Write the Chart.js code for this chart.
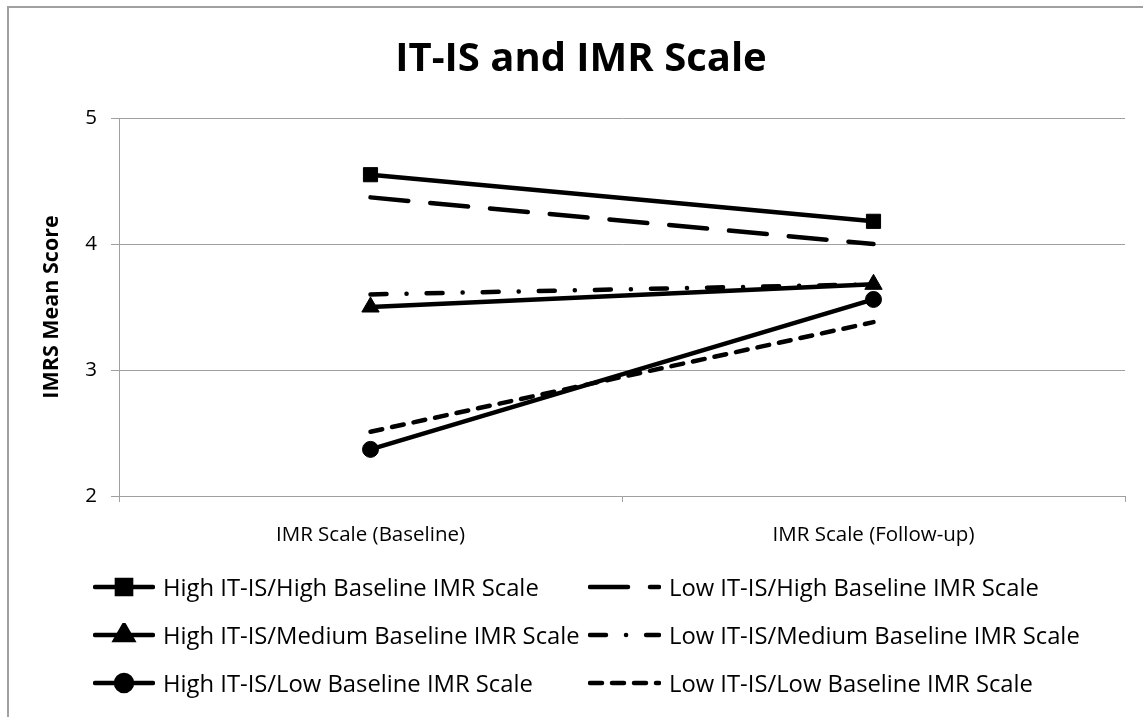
<!DOCTYPE html>
<html>
<head>
<meta charset="utf-8">
<script src="https://cdn.jsdelivr.net/npm/chart.js@4/dist/chart.umd.min.js"></script>
<style>
  body { margin:0; background:#fff; }
  #wrap { position:relative; width:1143px; height:717px; overflow:hidden; font-family:'Open Sans', sans-serif; }
  #frame { position:absolute; left:7px; top:6px; width:1200px; height:800px; border-left:2px solid #a0a0a0; border-top:2px solid #a0a0a0; }
  #chart { position:absolute; left:0; top:0; }
  #legend { position:absolute; left:93px; top:563px; display:grid; grid-template-columns:495px auto; grid-auto-rows:48px; align-items:center; }
  .item { display:flex; align-items:center; font-size:23.8px; color:#000; white-space:nowrap; }
  .item canvas { margin-right:8px; }
</style>
</head>
<body>
<div id="wrap">
  <div id="frame"></div>
  <canvas id="chart" width="1143" height="717"></canvas>
  <div id="legend"></div>
</div>
<script>
// ── DATA ─────────────────────────────────────────────────────────
const categories = ['IMR Scale (Baseline)', 'IMR Scale (Follow-up)'];
const seriesNames = [
  'High IT-IS/High Baseline IMR Scale',
  'Low IT-IS/High Baseline IMR Scale',
  'High IT-IS/Medium Baseline IMR Scale',
  'Low IT-IS/Medium Baseline IMR Scale',
  'High IT-IS/Low Baseline IMR Scale',
  'Low IT-IS/Low Baseline IMR Scale'
];
const highHigh = [4.55, 4.18];
const lowHigh  = [4.37, 4.00];
const highMed  = [3.50, 3.68];
const lowMed   = [3.60, 3.68];
const highLow  = [2.37, 3.56];
const lowLow   = [2.51, 3.38];
const yTicks   = [2, 3, 4, 5];

// ── STYLES ───────────────────────────────────────────────────────
const FONT = "'Open Sans', sans-serif";
const GRID = '#a0a0a0';
const styles = [
  { data: highHigh, dash: [],            point: 'rect',     radius: 10 },
  { data: lowHigh,  dash: [38, 22],      point: false,      radius: 0 },
  { data: highMed,  dash: [],            point: 'triangle', radius: 10 },
  { data: lowMed,   dash: [16, 20, 0.1, 20], point: false,  radius: 0 },
  { data: highLow,  dash: [],            point: 'circle',   radius: 8 },
  { data: lowLow,   dash: [12, 10],      point: false,      radius: 0 }
];

const datasets = styles.map((s, i) => ({
  label: seriesNames[i],
  data: s.data,
  borderColor: '#000',
  backgroundColor: '#000',
  borderWidth: 4.5,
  borderDash: s.dash,
  borderCapStyle: 'round',
  pointStyle: s.point || 'circle',
  pointRadius: s.radius,
  pointBorderWidth: 1,
  pointBackgroundColor: '#000',
  pointBorderColor: '#000',
  tension: 0
}));

new Chart(document.getElementById('chart'), {
  type: 'line',
  data: { labels: categories, datasets },
  options: {
    responsive: false,
    animation: false,
    layout: { padding: { left: 37, right: 18, top: 0, bottom: 161 } },
    plugins: {
      legend: { display: false },
      tooltip: { enabled: false },
      title: {
        display: true, text: 'IT-IS and IMR Scale', color: '#000',
        font: { family: FONT, size: 40, weight: 'bold' },
        padding: { top: 36, bottom: 34 }
      }
    },
    scales: {
      x: {
        offset: true,
        grid: { offset: true, drawOnChartArea: false, tickLength: 6, color: GRID },
        border: { color: GRID, width: 1 },
        ticks: { color: '#000', font: { family: FONT, size: 20.5 }, padding: 21 },
        afterFit: s => { s.height = 60; }
      },
      y: {
        min: 2, max: 5,
        afterBuildTicks: s => { s.ticks = yTicks.map(v => ({ value: v })); },
        grid: { color: GRID, tickLength: 8 },
        border: { color: GRID, width: 1 },
        ticks: { color: '#000', font: { family: FONT, size: 20.5 }, padding: 14 },
        title: { display: true, text: 'IMRS Mean Score', color: '#000', font: { family: FONT, size: 21.5, weight: 'bold' }, padding: { top: 2, bottom: 4 } },
        afterFit: s => { s.width = 82; }
      }
    }
  }
});

// ── LEGEND (two fixed columns, like the original) ────────────────
const legend = document.getElementById('legend');
styles.forEach((s, i) => {
  const w = i % 2 === 0 ? 62 : 73;
  const c = document.createElement('canvas');
  c.width = w; c.height = 24;
  const ctx = c.getContext('2d');
  ctx.strokeStyle = '#000'; ctx.fillStyle = '#000';
  ctx.lineWidth = 4.5; ctx.lineCap = 'round';
  ctx.setLineDash(s.dash);
  ctx.beginPath(); ctx.moveTo(2, 12); ctx.lineTo(w - 2, 12); ctx.stroke();
  ctx.setLineDash([]);
  if (s.point) Chart.helpers.drawPoint(ctx, { pointStyle: s.point, radius: s.radius, borderWidth: 1 }, w / 2, 12);
  if (s.point) ctx.fill();
  const item = document.createElement('div');
  item.className = 'item';
  item.appendChild(c);
  item.appendChild(document.createTextNode(seriesNames[i]));
  legend.appendChild(item);
});
</script>
</body>
</html>
